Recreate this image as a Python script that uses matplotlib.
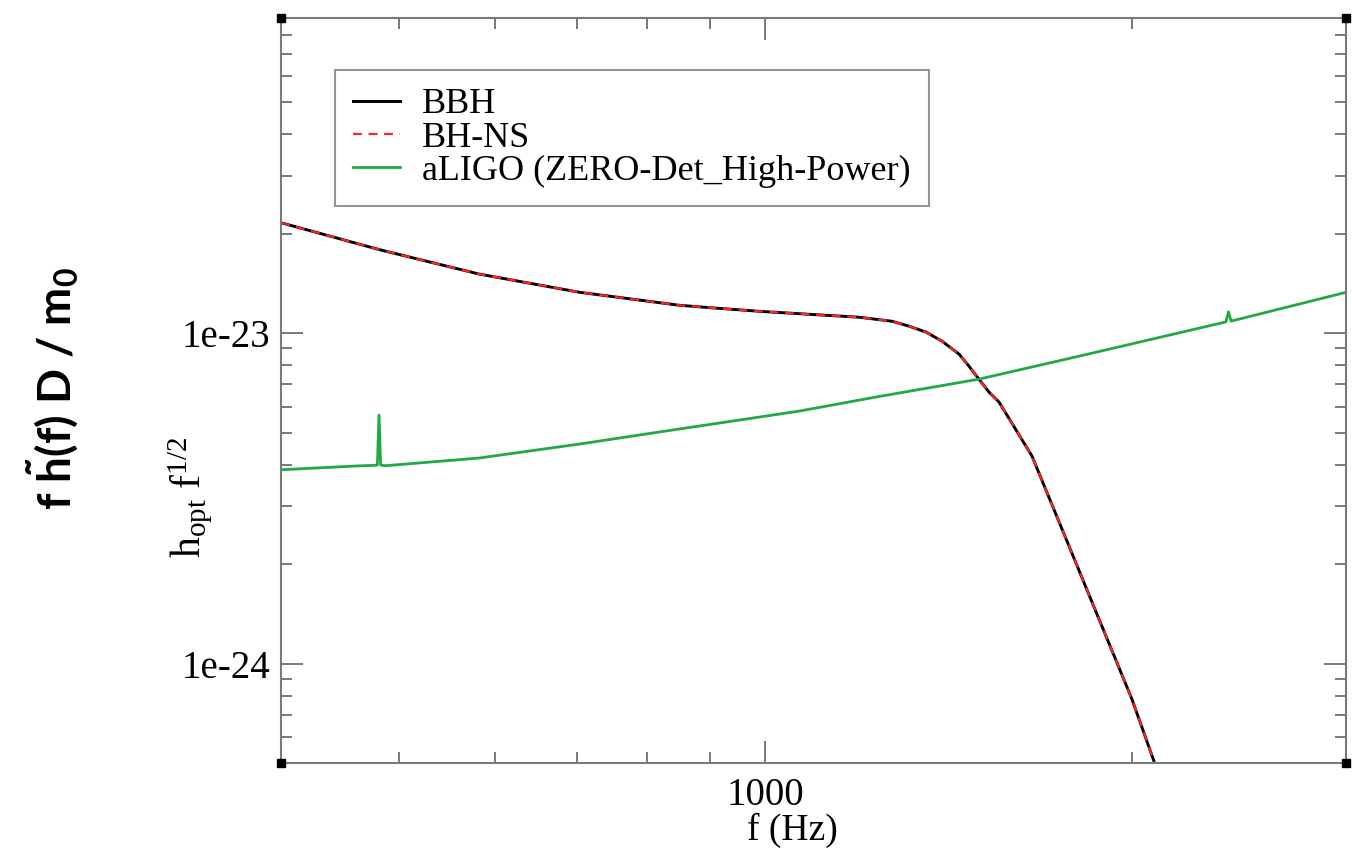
import matplotlib
matplotlib.use("Agg")
import matplotlib.pyplot as plt
from matplotlib.ticker import LogLocator, NullFormatter, FixedLocator, FixedFormatter

# ---- data -------------------------------------------------------------
bbh_freq = [400, 482, 582, 704, 850, 900, 989, 1087, 1194, 1271, 1313,
            1356, 1397, 1443, 1470, 1498, 1527, 1556, 1656, 1766, 1879,
            2000, 2085, 2110]
bbh_h = [2.16e-23, 1.79e-23, 1.51e-23, 1.33e-23, 1.215e-23, 1.195e-23,
         1.165e-23, 1.141e-23, 1.118e-23, 1.087e-23, 1.05e-23, 1.007e-23,
         9.46e-24, 8.64e-24, 7.95e-24, 7.26e-24, 6.63e-24, 6.19e-24,
         4.25e-24, 2.39e-24, 1.37e-24, 7.84e-25, 5.09e-25, 4.4e-25]

bhns_freq = list(bbh_freq)
bhns_h = list(bbh_h)

ligo_freq = [400, 462, 476, 480, 481.5, 483, 487, 582, 704, 850, 1066,
             1233, 1498, 1810, 2270, 2390, 2402, 2414, 3000]
ligo_h = [3.86e-24, 3.965e-24, 3.98e-24, 3.99e-24, 5.65e-24, 3.99e-24,
          3.97e-24, 4.19e-24, 4.62e-24, 5.13e-24, 5.81e-24, 6.41e-24,
          7.26e-24, 8.52e-24, 1.035e-23, 1.082e-23, 1.16e-23, 1.088e-23,
          1.33e-23]

series_labels = ["BBH", "BH-NS", "aLIGO (ZERO-Det_High-Power)"]
x_major = [1000]
x_major_labels = ["1000"]
y_major = [1e-24, 1e-23]
y_major_labels = ["1e-24", "1e-23"]

# ---- style ------------------------------------------------------------
plt.rcParams["font.family"] = ["Liberation Serif", "DejaVu Serif"]
plt.rcParams["mathtext.fontset"] = "custom"
plt.rcParams["mathtext.rm"] = "Liberation Serif"
plt.rcParams["mathtext.it"] = "Liberation Serif:italic"
plt.rcParams["mathtext.sf"] = "Lato"
plt.rcParams["mathtext.bf"] = "Lato:bold"

W, H = 1354, 848
fig = plt.figure(figsize=(W / 100, H / 100), dpi=100)
ax = fig.add_axes([281 / W, 1 - 763 / H, 1065 / W, 745 / H])

ax.set_xscale("log")
ax.set_yscale("log")
ax.set_xlim(400, 3000)
ax.set_ylim(5e-25, 9e-23)

ax.plot(bbh_freq, bbh_h, color="black", lw=2.1, label=series_labels[0])
ax.plot(bhns_freq, bhns_h, color="#ff2222", lw=1.6, dashes=(4, 3),
        label=series_labels[1])
ax.plot(ligo_freq, ligo_h, color="#22a844", lw=2.0, label=series_labels[2])

# frame and ticks
spine_col = "#7a7a7a"
for s in ax.spines.values():
    s.set_color(spine_col)
    s.set_linewidth(1.5)

ax.xaxis.set_major_locator(FixedLocator(x_major))
ax.xaxis.set_major_formatter(FixedFormatter(x_major_labels))
ax.xaxis.set_minor_locator(LogLocator(base=10, subs=range(2, 10)))
ax.xaxis.set_minor_formatter(NullFormatter())
ax.yaxis.set_major_locator(FixedLocator(y_major))
ax.yaxis.set_major_formatter(FixedFormatter(y_major_labels))
ax.yaxis.set_minor_locator(LogLocator(base=10, subs=range(2, 10)))
ax.yaxis.set_minor_formatter(NullFormatter())

ax.tick_params(which="both", direction="in", top=True, right=True,
               color="#555555", labelsize=28)
ax.tick_params(which="major", length=16, width=1.1)
ax.tick_params(which="minor", length=8, width=1.1)
ax.tick_params(axis="x", which="major", pad=10)
ax.tick_params(axis="y", which="major", pad=8)

# corner markers
ax.plot([0, 1, 0, 1], [0, 0, 1, 1], ls="none", marker="s", ms=6,
        color="black", transform=ax.transAxes, clip_on=False, zorder=5)

# labels
ax.set_xlabel("f (Hz)", fontsize=27)
ax.xaxis.set_label_coords(0.48, -0.0665)
ax.text(-0.085, 0.357, r"$\mathrm{h_{opt}\ f^{1/2}}$", fontsize=30,
        rotation=90, ha="center", va="center", transform=ax.transAxes)
fig.text(53 / W, 1 - 388 / H, r"f $\mathbf{\tilde{h}}$(f) D / m$_\mathbf{0}$",
         family="Lato", fontsize=33, fontweight="bold", rotation=90,
         ha="center", va="center")

leg = ax.legend(loc="upper left", bbox_to_anchor=(0.051, 0.93),
                borderaxespad=0, fontsize=26, frameon=True, fancybox=False,
                handlelength=1.3, handletextpad=0.6, labelspacing=0.0,
                borderpad=0.5)
leg.get_frame().set_edgecolor(spine_col)
leg.get_frame().set_linewidth(1.5)

fig.savefig("out.png", dpi=100)
